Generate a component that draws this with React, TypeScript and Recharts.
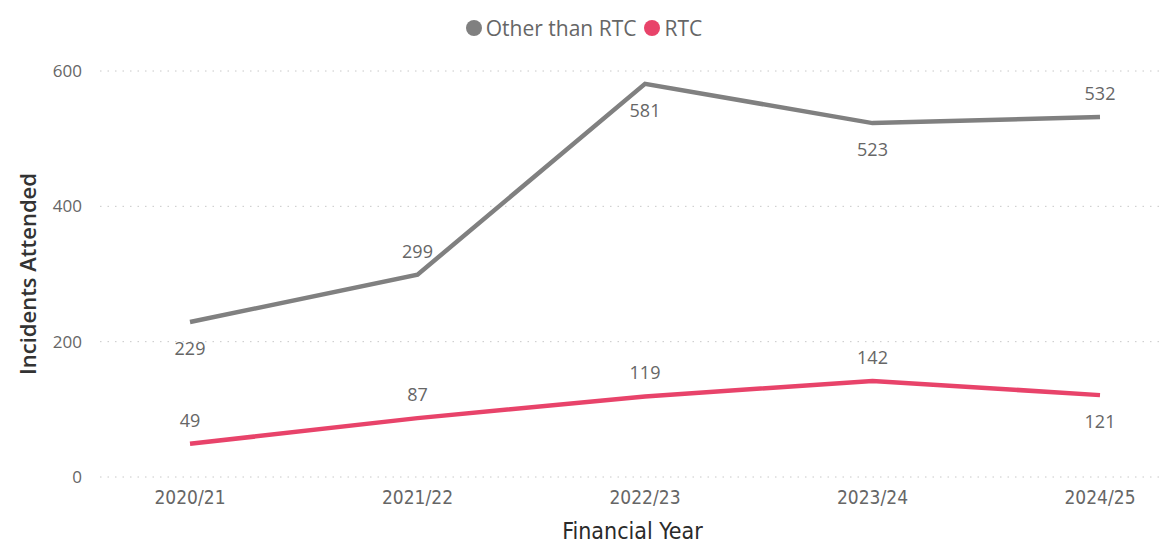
import React from "react";
import { LineChart, Line, XAxis, YAxis, CartesianGrid, Legend } from "recharts";

const years = ["2020/21", "2021/22", "2022/23", "2023/24", "2024/25"];
const otherThanRtc = [229, 299, 581, 523, 532];
const rtc = [49, 87, 119, 142, 121];
const yTicks = [0, 200, 400, 600];
// where each data label sits relative to its point
const otherLabelSide = ["below", "above", "below", "below", "above"];
const rtcLabelSide = ["above", "above", "above", "above", "below"];

const GREY = "#808080";
const PINK = "#E8436A";

const data = years.map((y, i) => ({
  year: y,
  other: otherThanRtc[i],
  rtc: rtc[i],
}));

const makeLabel = (sides: string[]) => (props: any) => {
  const { x, y, value, index } = props;
  const below = sides[index] === "below";
  return (
    <text
      x={x}
      y={below ? y + 26 : y - 24}
      textAnchor="middle"
      dominantBaseline="central"
      fill="#666"
      fontSize={18}
      fontFamily="'Open Sans', sans-serif"
    >
      {value}
    </text>
  );
};

const renderLegend = () => (
  <div
    style={{
      display: "flex",
      justifyContent: "center",
      alignItems: "center",
      height: 27,
      fontFamily: "'Open Sans', sans-serif",
      fontSize: 21,
      color: "#666",
    }}
  >
    <span style={{ display: "inline-block", width: 16, height: 16, borderRadius: "50%", background: GREY, marginRight: 4 }} />
    <span style={{ marginRight: 8 }}>Other than RTC</span>
    <span style={{ display: "inline-block", width: 16, height: 16, borderRadius: "50%", background: PINK, marginRight: 4 }} />
    <span>RTC</span>
  </div>
);

export default function App() {
  return (
    <div style={{ position: "absolute", left: 0, top: 0, background: "#fff" }}>
      <LineChart
        width={1168}
        height={543}
        data={data}
        margin={{ top: 44, right: 3, bottom: 0, left: 0 }}
      >
        <CartesianGrid vertical={false} stroke="#c8c8c8" strokeDasharray="1.5 6" />
        <XAxis
          dataKey="year"
          height={66}
          axisLine={false}
          tickLine={false}
          tickMargin={8}
          padding={{ left: 90, right: 65 }}
          tick={{ fill: "#666", fontSize: 19, fontFamily: "'DejaVu Sans Condensed', sans-serif" }}
          label={{
            value: "Financial Year",
            position: "insideBottom",
            offset: 4,
            fill: "#2a2a2a",
            fontSize: 23,
            fontFamily: "'DejaVu Sans Condensed', sans-serif",
          }}
        />
        <YAxis
          width={100}
          domain={[0, 600]}
          ticks={yTicks}
          axisLine={false}
          tickLine={false}
          tickMargin={12}
          tick={{ fill: "#666", fontSize: 17, fontFamily: "'Open Sans', sans-serif" }}
          label={{
            value: "Incidents Attended",
            angle: -90,
            position: "insideLeft",
            offset: 28,
            style: { textAnchor: "middle" },
            fill: "#333",
            fontSize: 22,
            fontWeight: 600,
            fontFamily: "'Open Sans', sans-serif",
          }}
        />
        <Legend
          verticalAlign="top"
          content={renderLegend}
          wrapperStyle={{ top: 14, left: 0, width: 1168 }}
        />
        <Line
          dataKey="other"
          name="Other than RTC"
          stroke={GREY}
          strokeWidth={4.5}
          dot={false}
          activeDot={false}
          isAnimationActive={false}
          label={makeLabel(otherLabelSide)}
        />
        <Line
          dataKey="rtc"
          name="RTC"
          stroke={PINK}
          strokeWidth={4.5}
          dot={false}
          activeDot={false}
          isAnimationActive={false}
          label={makeLabel(rtcLabelSide)}
        />
      </LineChart>
    </div>
  );
}
